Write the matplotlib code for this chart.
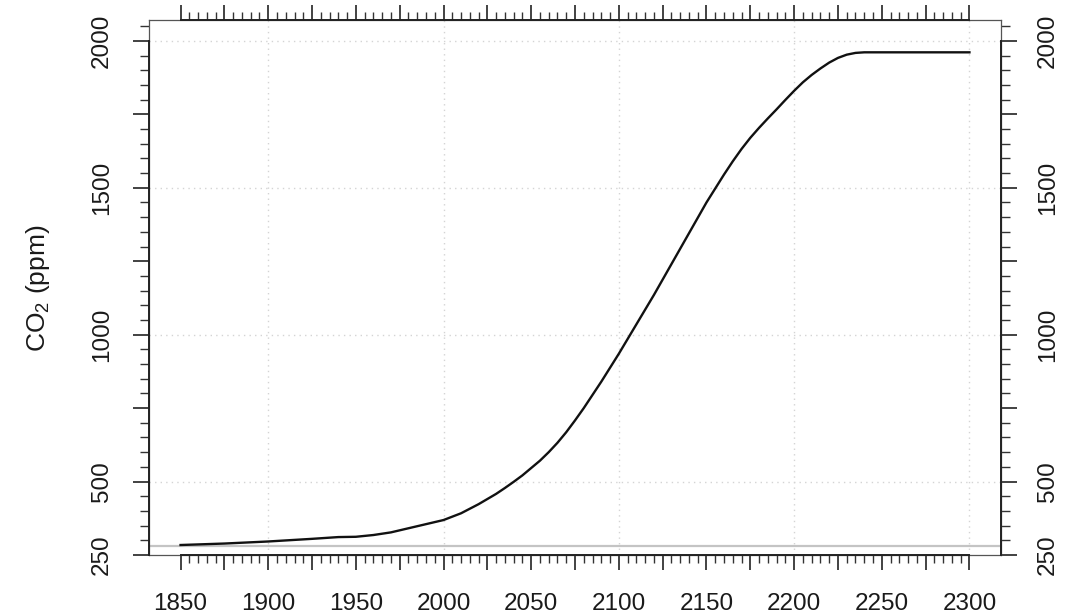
import numpy as np
import matplotlib
matplotlib.use("Agg")
import matplotlib.pyplot as plt
from matplotlib.ticker import FixedLocator, MultipleLocator

plt.rcParams["font.family"] = ["Liberation Sans", "DejaVu Sans"]
plt.rcParams["mathtext.fontset"] = "custom"
plt.rcParams["mathtext.rm"] = "Liberation Sans"

# CO2 concentration pathway (ppm)
years = [1850, 1875, 1900, 1925, 1940, 1950, 1960, 1970, 1980, 1990,
         2000, 2010, 2020, 2030, 2035, 2040, 2045, 2050, 2055, 2060,
         2065, 2070, 2075, 2080, 2090, 2100, 2110, 2120, 2130, 2140,
         2150, 2160, 2165, 2170, 2175, 2180, 2185, 2190, 2195, 2200,
         2205, 2210, 2215, 2220, 2225, 2230, 2235, 2240, 2250, 2275, 2300]
co2 = [284, 289, 296, 305, 311, 312, 318, 327, 341, 355,
       369, 392, 423, 458, 478, 499, 521, 546, 571, 600,
       632, 668, 708, 750, 840, 935, 1035, 1135, 1240, 1345,
       1450, 1545, 1590, 1632, 1670, 1704, 1736, 1767, 1799, 1830,
       1859, 1884, 1906, 1926, 1942, 1953, 1959, 1961, 1961, 1961, 1961]
preindustrial = 280

xtick_major = list(range(1850, 2301, 25))
xtick_labels = [str(y) if y % 50 == 0 else "" for y in xtick_major]
ytick_major = list(range(250, 2001, 250))
ytick_labels = ["250", "500", "", "1000", "", "1500", "", "2000"]
xgrid = [1900, 2000, 2100, 2200, 2300]
ygrid = [500, 1000, 1500, 2000]

fig = plt.figure(figsize=(10.77, 6.16), dpi=100)
ax = fig.add_axes([149 / 1077, 1 - 555 / 616, 852 / 1077, 535 / 616])

for g in xgrid:
    ax.axvline(g, color="#d4d4d4", lw=1.0, ls=(0, (1, 3)), zorder=0)
for g in ygrid:
    ax.axhline(g, color="#d4d4d4", lw=1.0, ls=(0, (1, 3)), zorder=0)

ax.axhline(preindustrial, color="#c4c4c4", lw=1.6, zorder=1)
ax.plot(years, co2, color="#111111", lw=1.7, zorder=2,
        solid_joinstyle="round")

ax.set_xlim(1832, 2318)
ax.set_ylim(250, 2071)

for s in ax.spines.values():
    s.set_color("#555555")
    s.set_linewidth(0.9)

# axis lines spanning the tick range (R style)
kw = dict(color="#222222", lw=1.4, clip_on=False, zorder=5)
ax.plot([1850, 2300], [250, 250], **kw)
ax.plot([1850, 2300], [2071, 2071], **kw)
ax.plot([1832, 1832], [250, 2000], **kw)
ax.plot([2318, 2318], [250, 2000], **kw)

ax.xaxis.set_major_locator(FixedLocator(xtick_major))
ax.set_xticklabels(xtick_labels)
ax.xaxis.set_minor_locator(FixedLocator(list(range(1850, 2301, 5))))
ax.yaxis.set_major_locator(FixedLocator(ytick_major))
ax.set_yticklabels(ytick_labels)
ax.yaxis.set_minor_locator(MultipleLocator(50))

ax.tick_params(axis="x", which="major", direction="out", length=11, width=1.2,
               color="#222222", top=True, bottom=True, labelsize=17.5,
               labelcolor="#1a1a1a", pad=16.5)
ax.tick_params(axis="x", which="minor", direction="out", length=5.5, width=1.0,
               color="#333333", top=True, bottom=True)
ax.tick_params(axis="y", which="major", direction="out", length=11.5, width=1.2,
               color="#222222", left=True, right=True, labelleft=True,
               labelright=True, labelsize=17.5, labelcolor="#1a1a1a", pad=14.5)
ax.tick_params(axis="y", which="minor", direction="out", length=6.5, width=1.0,
               color="#333333", left=True, right=True)

for t in ax.yaxis.get_major_ticks():
    t.label1.set_rotation(90)
    t.label1.set_va("center")
    t.label2.set_rotation(90)
    t.label2.set_va("center")

fig.text(38 / 1077, 1 - 288 / 616, r"CO$_\mathregular{2}$ (ppm)", rotation=90,
         ha="center", va="center", fontsize=19, color="#1a1a1a")

fig.savefig("out.png", dpi=100)
